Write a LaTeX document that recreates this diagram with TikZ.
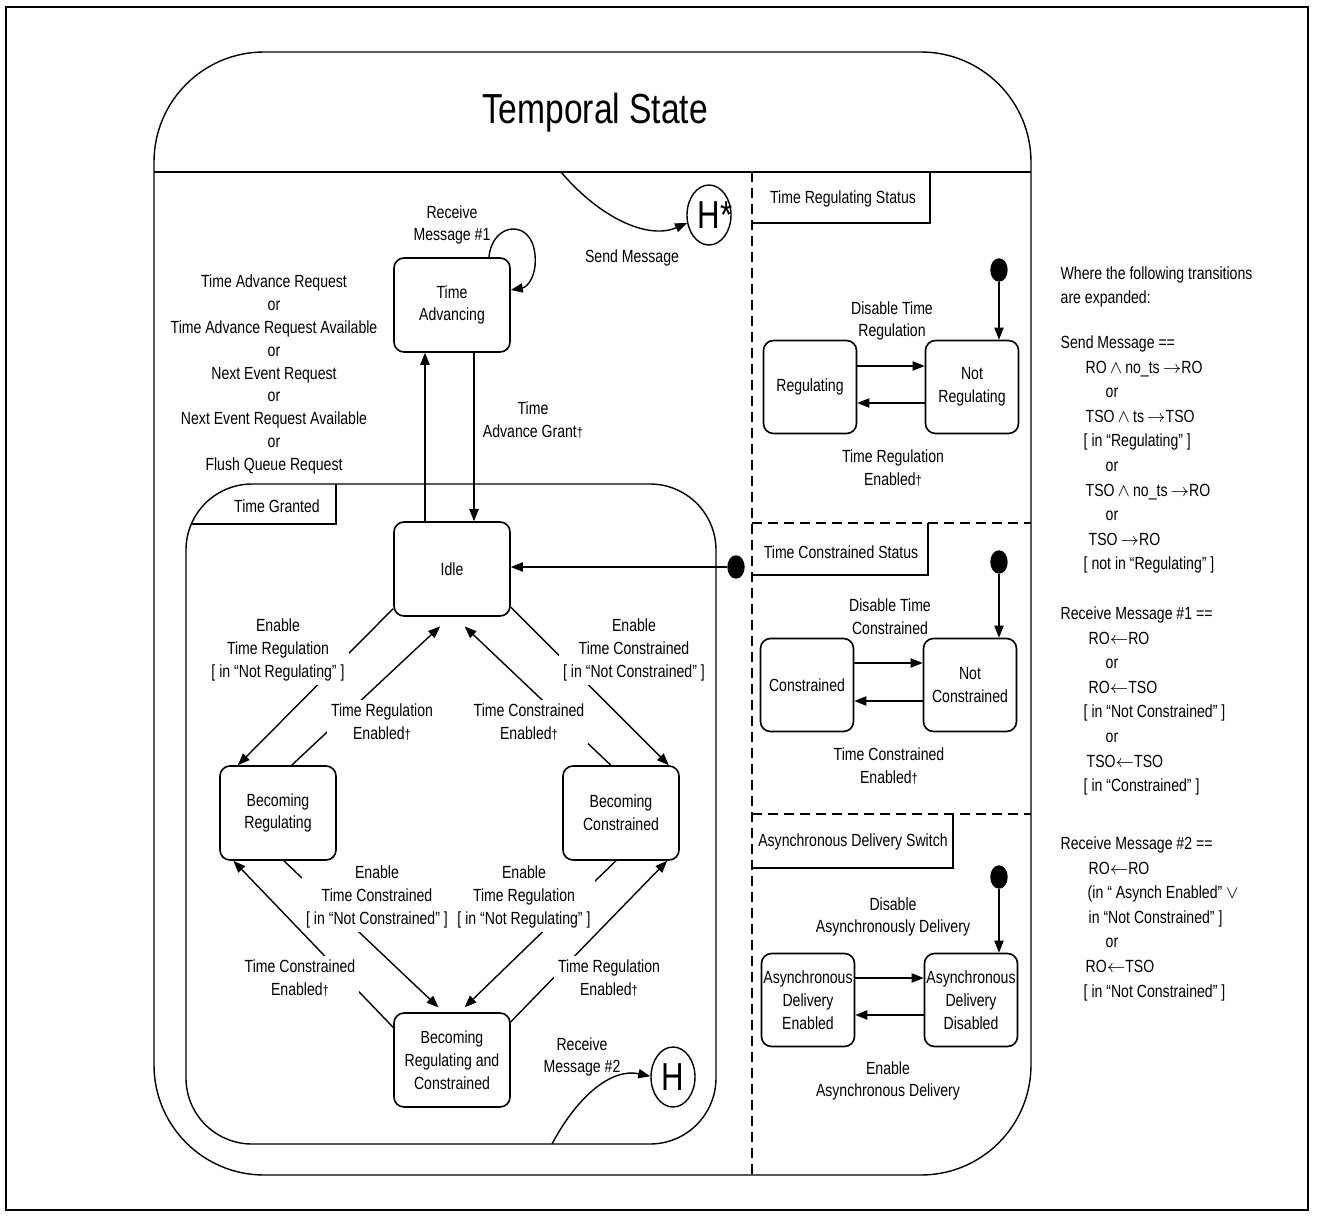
\documentclass[tikz,border=0pt]{standalone}
\usepackage{fontspec}
\setmainfont{Liberation Sans}[FakeStretch=0.8]
\usetikzlibrary{arrows.meta,shapes.geometric}
\newcommand{\grantmark}{{\fontsize{7}{7}\selectfont †}}

\begin{document}
\begin{tikzpicture}[x=0.5pt,y=-0.5pt,
  font=\fontsize{8.8}{11.4}\selectfont,line width=0.7pt,
  stbox/.style={draw,line width=0.8pt,rounded corners=5pt,minimum width=58pt,minimum height=47pt,align=center,inner sep=1pt},
  smbox/.style={stbox,minimum width=46.5pt,minimum height=46.5pt,inner sep=0.5pt},
  trans/.style={-{Triangle[length=6pt,width=4.6pt]}},
  lbl/.style={align=center,inner sep=1pt},
  cutlbl/.style={lbl,fill=white,inner sep=2pt},
  initdot/.style={draw,fill=black,ellipse,minimum width=8pt,minimum height=11pt,inner sep=0pt},
  histnode/.style={draw,ellipse,minimum width=22pt,minimum height=30pt,inner sep=0pt,font=\fontsize{19.5}{20}\selectfont},
  bndry/.style={dash pattern=on 5pt off 3pt,line width=0.85pt},
  expand/.style={anchor=north west,align=left,inner sep=0pt,font=\fontsize{8.8}{12.3}\selectfont}]
\useasboundingbox (0,0) rectangle (1319,1216);
\draw[line width=1pt] (6,7) rectangle (1308,1210);

% Temporal State
\draw[rounded corners=55pt] (154,52) rectangle (1031,1175);
\draw (154,172) -- (1031,172);
\node (title) at (595,113) {\fontsize{21}{24}\selectfont Temporal State};

% concurrent regions
\draw[bndry] (752,172) -- (752,1175);
\draw[bndry] (752,523) -- (1031,523);
\draw[bndry] (752,814) -- (1031,814);
\draw (752,223) -- (930,223) -- (930,172);
\node (trstab) at (843,199) {Time Regulating Status};
\draw (752,575) -- (928,575) -- (928,523);
\node (tcstab) at (841,552) {Time Constrained Status};
\draw (752,868) -- (953,868) -- (953,814);
\node (adstab) at (853,842) {Asynchronous Delivery Switch};

% Time Granted
\draw[rounded corners=33pt] (186,484) rectangle (716,1144);
\draw (192,524) -- (336,524) -- (336,484);
\node (tgtab) at (277,506) {Time Granted};

% states
\node[stbox] (tadv) at (452,305) {Time\\Advancing};
\node[stbox] (idle) at (452,569) {Idle};
\node[stbox] (breg) at (278,813) {Becoming\\Regulating};
\node[stbox] (bcon) at (621,813) {Becoming\\Constrained};
\node[stbox] (bregcon) at (452,1060) {Becoming\\Regulating and\\Constrained};
\node[histnode] (hist) at (673,1077) {H};
\node[histnode] (histdeep) at (709,215) {H\rlap{*}};

\node[smbox] (reg) at (810,387) {Regulating};
\node[smbox] (notreg) at (972,387) {Not\\Regulating};
\node[smbox] (con) at (807,685) {Constrained};
\node[smbox] (notcon) at (970,685) {Not\\Constrained};
\node[smbox] (asyon) at (808,1000) {Asynchronous\\Delivery\\Enabled};
\node[smbox] (asyoff) at (971,1000) {Asynchronous\\Delivery\\Disabled};

\foreach \n/\yy in {initreg/270,initcon/562,initasy/877}
  \node[initdot] (\n) at (999,\yy) {};
\node[initdot] (initidle) at (736,567) {};

% transitions
\draw[trans] (idle.north -| 425,0) -- (tadv.south -| 425,0);
\draw[trans] (tadv.south -| 474,0) -- (idle.north -| 474,0);
\draw[trans] (tadv.north -| 489,0) .. controls (492,222) and (532,218) .. (535,255)
  .. controls (537,275) and (528,287) .. (tadv.east |- 0,290);
\draw[trans] (initidle) -- (idle.east |- initidle);

\draw[trans] (idle.214) -- (breg.130);
\draw[trans,shorten >=7pt] (breg.74) -- (idle.-92);
\draw[trans] (idle.-33) -- (bcon.45);
\draw[trans,shorten >=7pt] (bcon.102) -- (idle.-87);
\draw[trans,shorten >=3.5pt] (breg.-83) -- (bregcon.100);
\draw[trans] (bregcon.151) -- (breg.-133);
\draw[trans,shorten >=3.5pt] (bcon.-96) -- (bregcon.81);
\draw[trans] (bregcon.33) -- (bcon.-46);

\coordinate (tsedge) at (561,172);
\draw[trans] (tsedge) .. controls (600,218) and (648,240) .. (histdeep.200);
\coordinate (tgedge) at (552,1144);
\draw[trans] (tgedge) .. controls (578,1095) and (612,1068) .. (hist.178);

\draw[trans] (reg.east |- 0,366) -- (notreg.west |- 0,366);
\draw[trans] (notreg.west |- 0,403) -- (reg.east |- 0,403);
\draw[trans] (con.east |- 0,663) -- (notcon.west |- 0,663);
\draw[trans] (notcon.west |- 0,701) -- (con.east |- 0,701);
\draw[trans] (asyon.east |- 0,978) -- (asyoff.west |- 0,978);
\draw[trans] (asyoff.west |- 0,1015) -- (asyon.east |- 0,1015);
\draw[trans] (initreg) -- (notreg.north -| initreg);
\draw[trans] (initcon) -- (notcon.north -| initcon);
\draw[trans] (initasy) -- (asyoff.north -| initasy);

% labels
\node[lbl] (rm1) at (452,225) {Receive\\Message \#1};
\node[lbl] (tareq) at (274,374.5) {Time Advance Request\\or\\Time Advance Request Available\\or\\Next Event Request\\or\\Next Event Request Available\\or\\Flush Queue Request};
\node[lbl] (tagrant) at (533,420) {Time\\Advance Grant\grantmark};
\node[lbl] (sendlbl) at (632,258) {Send Message};
\node[lbl] (rm2) at (582,1057) {Receive\\Message \#2};

\node[cutlbl] (etr1) at (278,650) {Enable\\Time Regulation\\{[} in “Not Regulating” ]};
\node[cutlbl] (tre1) at (382,722) {Time Regulation\\Enabled\grantmark};
\node[cutlbl] (etc1) at (634,650) {Enable\\Time Constrained\\{[} in “Not Constrained” ]};
\node[cutlbl] (tce1) at (529,722) {Time Constrained\\Enabled\grantmark};
\node[cutlbl] (etc2) at (377,897) {Enable\\Time Constrained\\{[} in “Not Constrained” ]};
\node[cutlbl] (etr2) at (524,897) {Enable\\Time Regulation\\{[} in “Not Regulating” ]};
\node[cutlbl] (tce2) at (300,978) {Time Constrained\\Enabled\grantmark};
\node[cutlbl] (tre2) at (609,978) {Time Regulation\\Enabled\grantmark};

\node[lbl] (dtr) at (892,321) {Disable Time\\Regulation};
\node[lbl] (tre3) at (893,468) {Time Regulation\\Enabled\grantmark};
\node[lbl] (dtc) at (890,617) {Disable Time\\Constrained};
\node[lbl] (tce3) at (889,766) {Time Constrained\\Enabled\grantmark};
\node[lbl] (dad) at (893,917) {Disable\\Asynchronously Delivery};
\node[lbl] (ead) at (888,1081) {Enable\\Asynchronous Delivery};

% expanded transitions
\node[expand,font=\fontsize{8.8}{12}\selectfont] (where) at (1060,266) {Where the following transitions\\are expanded:};
\node[expand] (sendx) at (1060,335) {Send Message ==\\
  \hspace*{12.5pt}RO$\,\wedge\,$no\_ts$\,\rightarrow$RO\\
  \hspace*{22.5pt}or\\
  \hspace*{12.5pt}TSO$\,\wedge\,$ts$\,\rightarrow$TSO\\
  \hspace*{11.5pt}{[} in “Regulating” ]\\
  \hspace*{22.5pt}or\\
  \hspace*{12.5pt}TSO$\,\wedge\,$no\_ts$\,\rightarrow$RO\\
  \hspace*{22.5pt}or\\
  \hspace*{14pt}TSO$\,\rightarrow$RO\\
  \hspace*{11.5pt}{[} not in “Regulating” ]};
\node[expand] (recv1x) at (1060,606) {Receive Message \#1 ==\\
  \hspace*{14pt}RO$\leftarrow$RO\\
  \hspace*{22.5pt}or\\
  \hspace*{14pt}RO$\leftarrow$TSO\\
  \hspace*{11.5pt}{[} in “Not Constrained” ]\\
  \hspace*{22.5pt}or\\
  \hspace*{13pt}TSO$\leftarrow$TSO\\
  \hspace*{11.5pt}{[} in “Constrained” ]};
\node[expand] (recv2x) at (1060,836) {Receive Message \#2 ==\\
  \hspace*{14pt}RO$\leftarrow$RO\\
  \hspace*{13.5pt}(in “ Asynch Enabled” $\vee$\\
  \hspace*{14pt}in “Not Constrained” ]\\
  \hspace*{22.5pt}or\\
  \hspace*{12.5pt}RO$\leftarrow$TSO\\
  \hspace*{11.5pt}{[} in “Not Constrained” ]};
\end{tikzpicture}
\end{document}
